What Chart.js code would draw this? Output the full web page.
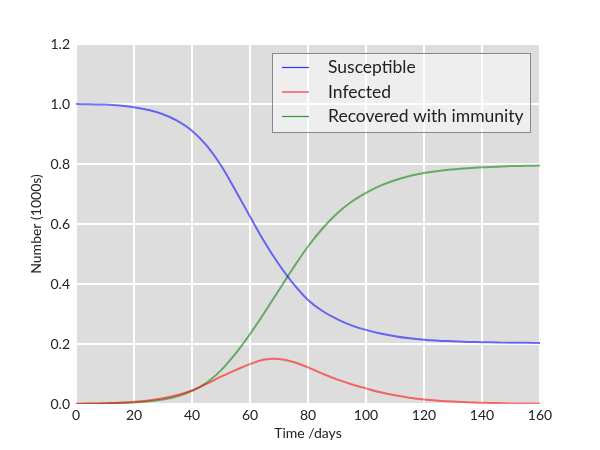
<!DOCTYPE html>
<html>
<head>
<meta charset="utf-8">
<script src="https://cdn.jsdelivr.net/npm/chart.js@4.4.0/dist/chart.umd.min.js"></script>
<style>
  html, body { margin: 0; padding: 0; background: #fff; }
  #wrap { width: 600px; height: 450px; }
</style>
</head>
<body>
<div id="wrap"><canvas id="sir"></canvas></div>
<script>
// Time in days
const days = [0, 5, 10, 15, 20, 25, 30, 35, 40, 45, 50, 55, 60, 65, 70, 75, 80,
  85, 90, 95, 100, 105, 110, 115, 120, 125, 130, 135, 140, 145, 150, 155, 160];

// Values (1000s)
const susceptible = [1.000, 0.999, 0.998, 0.995, 0.989, 0.980, 0.966, 0.944, 0.911, 0.862,
  0.795, 0.712, 0.625, 0.540, 0.465, 0.400, 0.347, 0.310, 0.283, 0.262, 0.247, 0.235,
  0.226, 0.219, 0.214, 0.211, 0.209, 0.207, 0.206, 0.205, 0.204, 0.204, 0.203];

const infected = [0.001, 0.0016, 0.0027, 0.0045, 0.0073, 0.012, 0.019, 0.030, 0.045, 0.067,
  0.091, 0.113, 0.133, 0.148, 0.150, 0.140, 0.122, 0.101, 0.082, 0.066, 0.052, 0.039,
  0.029, 0.021, 0.015, 0.011, 0.008, 0.006, 0.004, 0.003, 0.002, 0.0016, 0.0012];

const recovered = [0.000, 0.0007, 0.0015, 0.003, 0.005, 0.009, 0.015, 0.026, 0.044, 0.071,
  0.112, 0.168, 0.233, 0.305, 0.380, 0.455, 0.525, 0.585, 0.635, 0.674, 0.704, 0.728,
  0.746, 0.760, 0.770, 0.777, 0.782, 0.786, 0.789, 0.791, 0.793, 0.794, 0.795];

const seriesLabels = ['Susceptible', 'Infected', 'Recovered with immunity'];
const seriesColors = ['rgba(0,0,255,0.55)', 'rgba(255,0,0,0.55)', 'rgba(0,128,0,0.55)'];

const FONT = 'Lato, "DejaVu Sans", sans-serif';

// grey plot background
const plotBg = {
  id: 'plotBg',
  beforeDraw(chart) {
    const { ctx, chartArea: a } = chart;
    ctx.save();
    ctx.fillStyle = '#dddddd';
    ctx.fillRect(a.left, a.top, a.right - a.left, a.bottom - a.top);
    ctx.restore();
  }
};

// matplotlib-like legend box in the upper right of the plot
const boxLegend = {
  id: 'boxLegend',
  afterDraw(chart) {
    const { ctx, chartArea: a } = chart;
    const x0 = a.right - 268, y0 = a.top + 9, w = 258, h = 79;
    ctx.save();
    ctx.fillStyle = 'rgba(255,255,255,0.5)';
    ctx.fillRect(x0, y0, w, h);
    ctx.strokeStyle = '#888';
    ctx.lineWidth = 1;
    ctx.strokeRect(x0 + 0.5, y0 + 0.5, w, h);
    ctx.font = '17.5px ' + FONT;
    ctx.textBaseline = 'middle';
    chart.data.datasets.forEach((ds, i) => {
      const y = y0 + 14.5 + i * 24.5;
      ctx.strokeStyle = seriesColors[i].replace('0.55', '0.8');
      ctx.lineWidth = 1.2;
      ctx.beginPath();
      ctx.moveTo(x0 + 10, y);
      ctx.lineTo(x0 + 37, y);
      ctx.stroke();
      ctx.fillStyle = '#222';
      ctx.fillText(ds.label, x0 + 56, y);
    });
    ctx.restore();
  }
};

function toPoints(vals) {
  return days.map((d, i) => ({ x: d, y: vals[i] }));
}

const datasets = [susceptible, infected, recovered].map((vals, i) => ({
  label: seriesLabels[i],
  data: toPoints(vals),
  borderColor: seriesColors[i],
  borderWidth: 2,
  pointRadius: 0,
  tension: 0.4,
  fill: false
}));

new Chart(document.getElementById('sir'), {
  type: 'line',
  data: { datasets },
  options: {
    responsive: true,
    maintainAspectRatio: false,
    animation: false,
    layout: { padding: { left: 0, right: 60, top: 44, bottom: 0 } },
    plugins: {
      legend: { display: false },
      tooltip: { enabled: false }
    },
    scales: {
      x: {
        type: 'linear',
        min: 0,
        max: 160,
        ticks: { stepSize: 20, color: '#222', padding: 3, font: { family: FONT, size: 14 }, maxRotation: 0 },
        grid: { color: '#ffffff', lineWidth: 2, drawTicks: false },
        border: { display: false },
        title: { display: true, text: 'Time /days', color: '#222', font: { family: FONT, size: 14 }, padding: { top: 0, bottom: 8 } },
        afterFit(s) { s.height = 46; }
      },
      y: {
        min: 0,
        max: 1.2,
        ticks: { stepSize: 0.2, color: '#222', padding: 6, font: { family: FONT, size: 14 },
          callback: v => v.toFixed(1) },
        grid: { color: '#ffffff', lineWidth: 2, drawTicks: false },
        border: { display: false },
        title: { display: true, text: 'Number (1000s)', color: '#222', font: { family: FONT, size: 14 }, padding: { top: 28, bottom: 0 } },
        afterFit(s) { s.width = 76; }
      }
    }
  },
  plugins: [plotBg, boxLegend]
});
</script>
</body>
</html>
